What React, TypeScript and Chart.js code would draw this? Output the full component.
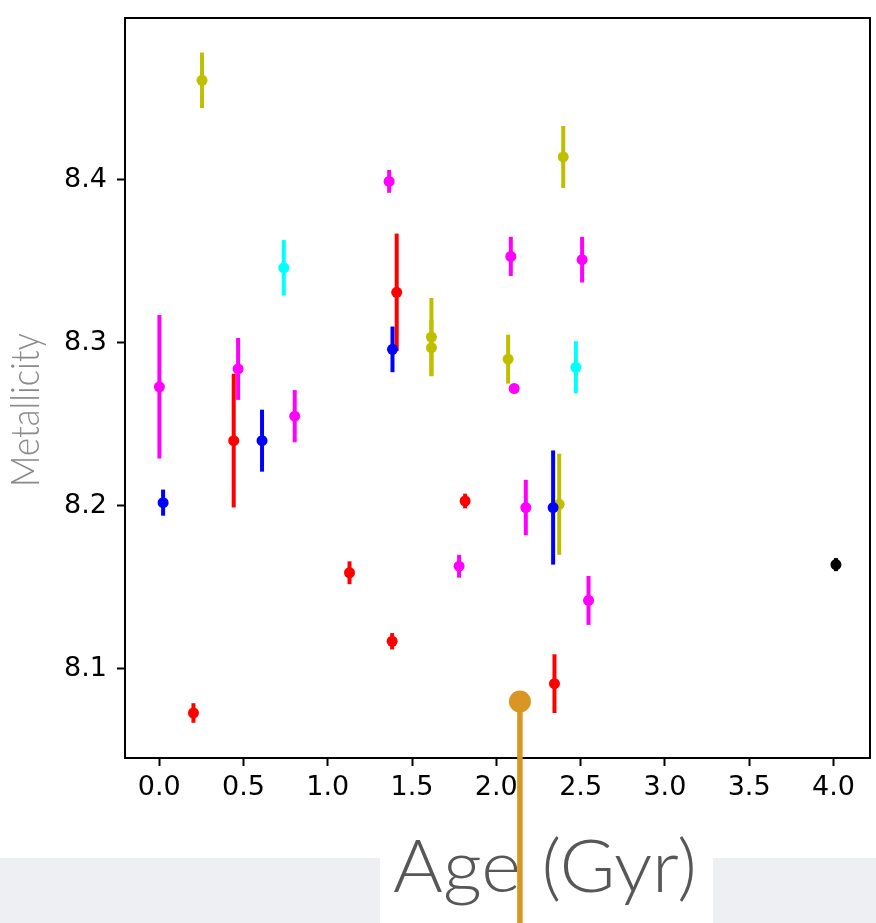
import React, { useEffect, useRef } from "react";
import { Chart, registerables } from "chart.js";

Chart.register(...registerables);

const W = 876;
const H = 923;

// Age (Gyr), gas-phase metallicity and 1-sigma error, one set of arrays per colour group
const magentaAge = [0.001, 0.468, 0.804, 1.364, 1.779, 2.086, 2.106, 2.175, 2.509, 2.547];
const magentaZ = [8.273, 8.284, 8.255, 8.399, 8.163, 8.353, 8.272, 8.199, 8.351, 8.142];
const magentaErr = [0.044, 0.019, 0.016, 0.007, 0.007, 0.012, 0, 0.017, 0.014, 0.015];

const redAge = [0.203, 0.442, 1.129, 1.382, 1.409, 1.815, 2.345];
const redZ = [8.073, 8.24, 8.159, 8.117, 8.331, 8.203, 8.091];
const redErr = [0.006, 0.041, 0.007, 0.005, 0.036, 0.0045, 0.018];

const blueAge = [0.023, 0.61, 1.384, 2.337];
const blueZ = [8.202, 8.24, 8.296, 8.199];
const blueErr = [0.008, 0.019, 0.014, 0.035];

const oliveAge = [0.254, 1.615, 1.615, 2.07, 2.397, 2.373];
const oliveZ = [8.461, 8.3035, 8.297, 8.29, 8.414, 8.201];
const oliveErr = [0.017, 0.024, 0.017, 0.015, 0.019, 0.031];

const cyanAge = [0.739, 2.472];
const cyanZ = [8.346, 8.285];
const cyanErr = [0.017, 0.016];

const blackAge = [4.015];
const blackZ = [8.164];
const blackErr = [0.004];

// highlighted galaxy marked with the pointer
const pointerAge = 2.14;
const pointerZ = 8.08;

const xTicks = [0, 0.5, 1, 1.5, 2, 2.5, 3, 3.5, 4];
const yTicks = [8.1, 8.2, 8.3, 8.4];
const xRange = [-0.203, 4.217];
const yRange = [8.0454, 8.4992];

const xTitle = "Age (Gyr)";
const yTitle = "Metallicity";

const points = (ages: number[], zs: number[]) => ages.map((a, i) => ({ x: a, y: zs[i] }));

const group = (color: string, ages: number[], zs: number[], errs: number[]) => ({
  data: points(ages, zs),
  errors: errs,
  backgroundColor: color,
  borderColor: color,
  pointRadius: 5.5,
  pointHoverRadius: 5.5,
  pointBorderWidth: 0,
  showLine: false,
});

const errorBars = {
  id: "errorBars",
  beforeDatasetDraw(chart: any, args: any) {
    const ds = chart.data.datasets[args.index];
    if (!ds.errors) return;
    const { ctx } = chart;
    const x = chart.scales.x;
    const y = chart.scales.y;
    ctx.save();
    ctx.strokeStyle = ds.backgroundColor;
    ctx.lineWidth = 4;
    ds.data.forEach((p: any, i: number) => {
      const e = ds.errors[i];
      if (!e) return;
      const px = x.getPixelForValue(p.x);
      ctx.beginPath();
      ctx.moveTo(px, y.getPixelForValue(p.y - e));
      ctx.lineTo(px, y.getPixelForValue(p.y + e));
      ctx.stroke();
    });
    ctx.restore();
  },
};

const titleFont = "300 %spx Lato, 'Open Sans', sans-serif";

const decorations = {
  id: "decorations",
  beforeDraw(chart: any) {
    const { ctx } = chart;
    ctx.save();
    ctx.fillStyle = "#eeeff3";
    ctx.fillRect(0, 858, 380, H - 858);
    ctx.fillRect(713, 858, W - 713, H - 858);
    ctx.restore();
  },
  afterDraw(chart: any) {
    const { ctx, chartArea: a } = chart;
    ctx.save();
    // full frame around the axes
    ctx.strokeStyle = "#000";
    ctx.lineWidth = 2;
    ctx.strokeRect(a.left, a.top, a.right - a.left, a.bottom - a.top);

    // y-axis title
    ctx.fillStyle = "#8a8a8a";
    ctx.font = titleFont.replace("%s", "39");
    ctx.textAlign = "center";
    ctx.textBaseline = "alphabetic";
    ctx.save();
    ctx.translate(39, 410);
    ctx.rotate(-Math.PI / 2);
    const yw = ctx.measureText(yTitle).width;
    ctx.scale(154 / yw, 1);
    ctx.fillText(yTitle, 0, 0);
    ctx.restore();

    // x-axis title
    ctx.fillStyle = "#575757";
    ctx.font = titleFont.replace("%s", "72");
    ctx.save();
    ctx.translate(545, 892);
    const xw = ctx.measureText(xTitle).width;
    ctx.scale(304 / xw, 1);
    ctx.fillText(xTitle, 0, 0);
    ctx.restore();

    // pointer to the highlighted galaxy
    const px = chart.scales.x.getPixelForValue(pointerAge);
    const py = chart.scales.y.getPixelForValue(pointerZ);
    ctx.strokeStyle = "#d99623";
    ctx.fillStyle = "#d99623";
    ctx.lineWidth = 5.5;
    ctx.beginPath();
    ctx.moveTo(px, py);
    ctx.lineTo(px, H);
    ctx.stroke();
    ctx.beginPath();
    ctx.arc(px, py, 11, 0, Math.PI * 2);
    ctx.fill();
    ctx.restore();
  },
};

const tickFont = { family: "'DejaVu Sans', sans-serif", size: 27 };

const noPadding = (s: any) => {
  s.paddingTop = 0;
  s.paddingBottom = 0;
  s.paddingLeft = 0;
  s.paddingRight = 0;
};

export default function App() {
  const ref = useRef<HTMLCanvasElement>(null);

  useEffect(() => {
    if (!ref.current) return;
    const chart = new Chart(ref.current, {
      type: "scatter",
      data: {
        datasets: [
          group("#000000", blackAge, blackZ, blackErr),
          group("#0000ff", blueAge, blueZ, blueErr),
          group("#ff0000", redAge, redZ, redErr),
          group("#bfbf00", oliveAge, oliveZ, oliveErr),
          group("#00ffff", cyanAge, cyanZ, cyanErr),
          group("#ff00ff", magentaAge, magentaZ, magentaErr),
        ] as any,
      },
      options: {
        responsive: false,
        animation: false,
        devicePixelRatio: 1,
        layout: { padding: { top: 18, right: 6, left: 0, bottom: 0 } },
        plugins: { legend: { display: false }, tooltip: { enabled: false } },
        events: [],
        scales: {
          x: {
            type: "linear",
            min: xRange[0],
            max: xRange[1],
            afterFit: (s: any) => {
              s.height = 165;
              noPadding(s);
            },
            afterBuildTicks: (s: any) => {
              s.ticks = xTicks.map((v) => ({ value: v }));
            },
            ticks: {
              color: "#000",
              font: tickFont,
              padding: 6,
              maxRotation: 0,
              callback: (v: any) => Number(v).toFixed(1),
            },
            grid: {
              display: true,
              drawOnChartArea: false,
              drawTicks: true,
              tickLength: 8,
              tickWidth: 2,
              tickColor: "#000",
            },
            border: { display: true, color: "#000", width: 2 },
          },
          y: {
            type: "linear",
            min: yRange[0],
            max: yRange[1],
            afterFit: (s: any) => {
              s.width = 125;
              noPadding(s);
            },
            afterBuildTicks: (s: any) => {
              s.ticks = yTicks.map((v) => ({ value: v }));
            },
            ticks: {
              color: "#000",
              font: tickFont,
              padding: 10,
              callback: (v: any) => Number(v).toFixed(1),
            },
            grid: {
              display: true,
              drawOnChartArea: false,
              drawTicks: true,
              tickLength: 8,
              tickWidth: 2,
              tickColor: "#000",
            },
            border: { display: true, color: "#000", width: 2 },
          },
        },
      },
      plugins: [errorBars, decorations],
    });
    return () => chart.destroy();
  }, []);

  return (
    <div style={{ position: "absolute", left: 0, top: 0, width: W, height: H, background: "#fff" }}>
      <canvas ref={ref} width={W} height={H} style={{ width: W, height: H, display: "block" }} />
    </div>
  );
}
